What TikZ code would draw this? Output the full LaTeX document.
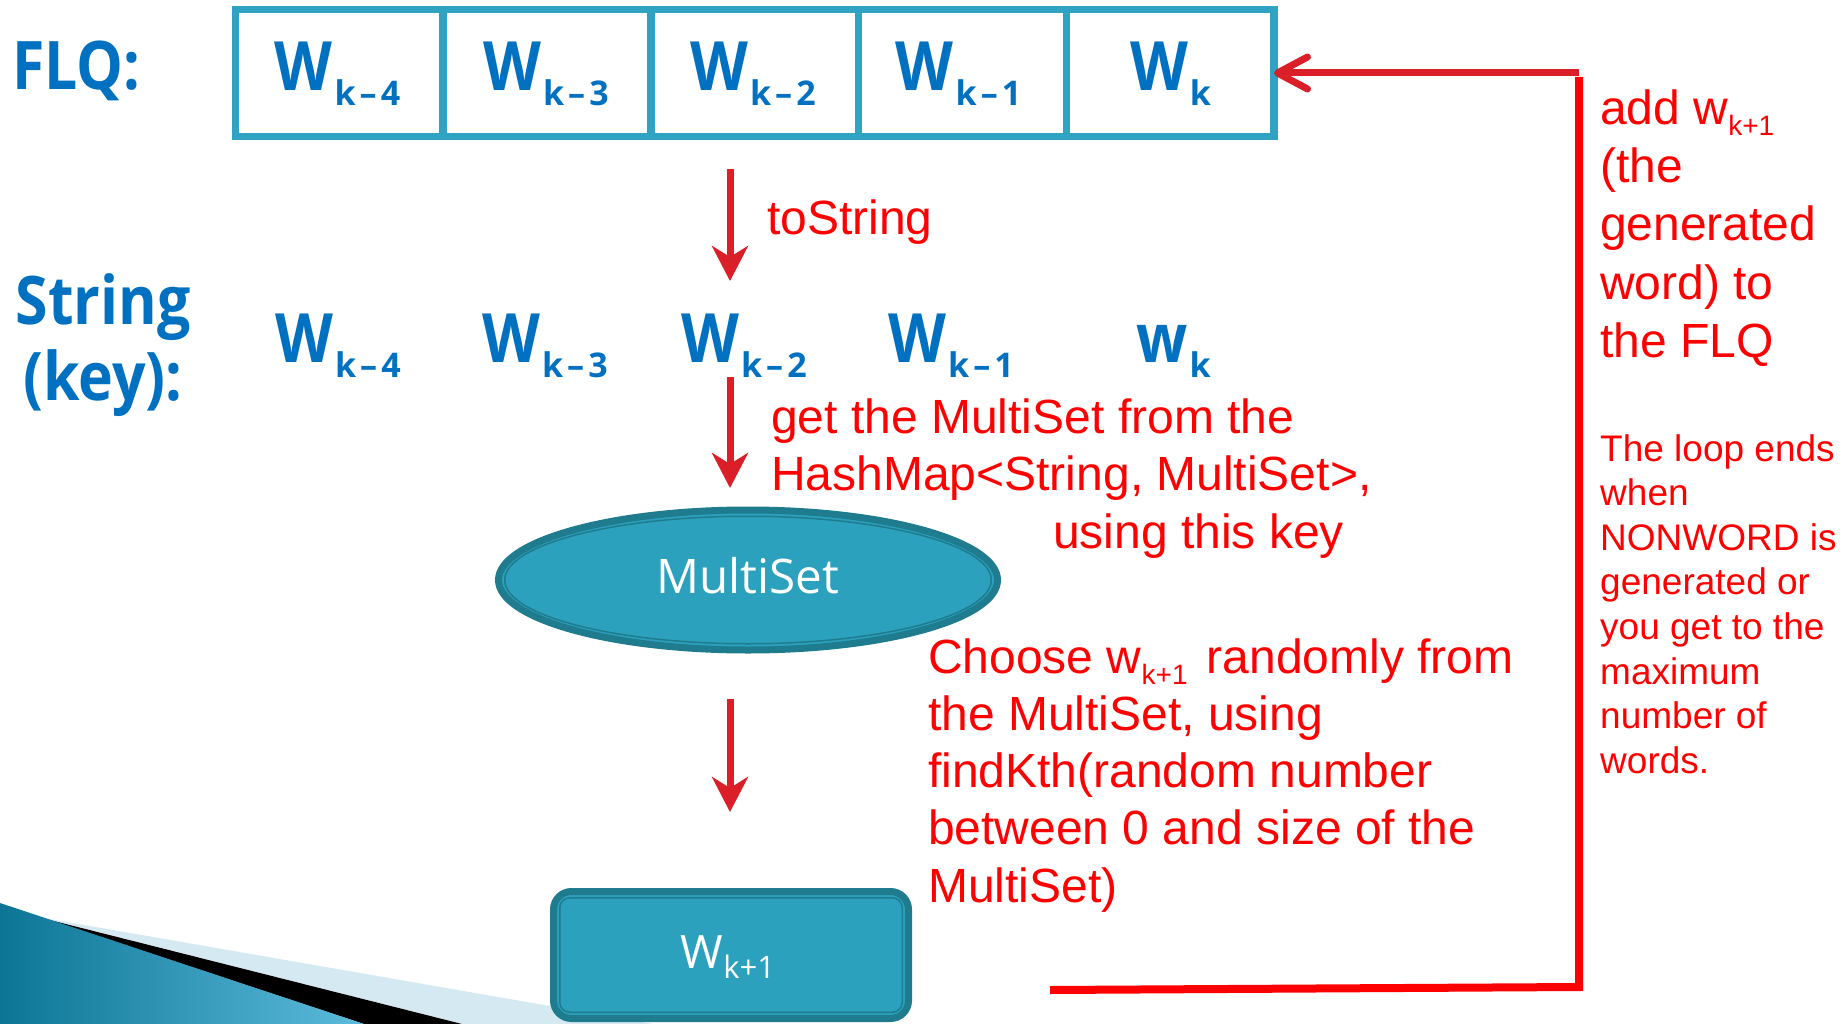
\documentclass[tikz,border=0pt]{standalone}
\usepackage{fontspec}
\setmainfont{Liberation Sans}
\newfontfamily\bluefont[FakeStretch=0.88]{Open Sans}
\newfontfamily\wfont{Open Sans}
\usetikzlibrary{arrows.meta,shapes.geometric}
\definecolor{flqblue}{HTML}{0070C0}
\definecolor{boxteal}{HTML}{2FA3C1}
\definecolor{fillteal}{HTML}{2CA1BD}
\definecolor{darkteal}{HTML}{1F7B8E}
\definecolor{arrowred}{HTML}{DA1F28}
\definecolor{textred}{HTML}{FF0000}
\definecolor{swdark}{HTML}{0C7595}
\definecolor{swlight}{HTML}{5CBBDC}
\definecolor{swpale}{HTML}{D4E9F1}
\newcommand\bsub[1]{\kern2pt\raisebox{-15pt}{\wfont\bfseries\fontsize{34}{40}\selectfont #1}}
\newcommand\rsub[1]{\raisebox{-11pt}{\fontsize{28}{32}\selectfont #1}}
\newcommand\wsub[1]{\raisebox{-10pt}{\fontsize{31}{36}\selectfont #1}}
\newcommand\mns{\kern4pt–\kern4pt}
\begin{document}
\begin{tikzpicture}[x=1pt,y=-1pt,
  cell/.style={draw=boxteal, line width=7.5pt, minimum width=207.7pt, minimum height=127pt, inner sep=0pt, outer sep=0pt},
  bw/.style={anchor=base, inner sep=0pt, text=flqblue, font=\bluefont\bfseries\fontsize{68}{80}\selectfont},
  bl/.style={inner sep=0pt, text=flqblue, font=\bluefont\bfseries\fontsize{67}{76}\selectfont},
  rt/.style={anchor=base west, inner sep=0pt, text=textred, font=\fontsize{48}{57.5}\selectfont},
  rs/.style={anchor=base west, inner sep=0pt, text=textred, font=\fontsize{37}{44.6}\selectfont},
  wt/.style={anchor=base, inner sep=0pt, text=white, font=\wfont\fontsize{47.6}{56}\selectfont},
  downarrow/.style={draw=arrowred, line width=7pt, -{Stealth[length=35pt,width=36pt,inset=11pt]}},
  tealshape/.style={draw=darkteal, line width=7pt, fill=fillteal, inner sep=0pt}
]
\useasboundingbox (0,0) rectangle (1844,1024);
\fill[white] (0,0) rectangle (1844,1024);
% corner swoosh
\fill[swpale] (44,918) -- (653,1024) -- (462,1024) -- cycle;
\fill[black] (46,919) -- (462,1024) -- (364,1024) -- cycle;
\shade[left color=swdark, right color=swlight] (0,903) -- (364,1024) -- (0,1024) -- cycle;
% FLQ cells
\foreach \i in {1,...,5} \node[cell] (c\i) at ({235.5+207.7*(\i-0.5)},73) {};
% labels
\node[bl, anchor=base west] (flq) at (12,90) {FLQ:};
\node[bl, anchor=base] (strlbl) at (103,324) {String};
\node[bl, anchor=base] (keylbl) at (103,400) {(key):};
% FLQ words
\node[bw] (f1) at (337.5,91) {W\bsub{k\mns4}};
\node[bw] (f2) at (546,91) {W\bsub{k\mns3}};
\node[bw] (f3) at (753,91) {W\bsub{k\mns2}};
\node[bw] (f4) at (958.5,91) {W\bsub{k\mns1}};
\node[bw] (f5) at (1170.5,91) {W\bsub{k}};
% String words
\node[bw] (s1) at (338,362) {W\bsub{k\mns4}};
\node[bw] (s2) at (545,362) {W\bsub{k\mns3}};
\node[bw] (s3) at (744,362) {W\bsub{k\mns2}};
\node[bw] (s4) at (951,362) {W\bsub{k\mns1}};
\node[bw] (s5) at (1173.5,362) {w\bsub{k}};
% ellipse
\node[tealshape, ellipse, minimum width=499pt, minimum height=140pt] (ms) at (748,580) {};
\draw[darkteal, line width=1.5pt] (ms.center) ellipse [x radius=243.25pt, y radius=63.75pt];
\node[wt] (mstext) at (748,593) {MultiSet};
% result box
\node[tealshape, rectangle, rounded corners=18pt, minimum width=355pt, minimum height=127pt] (wk) at (731,955) {};
\draw[darkteal, line width=1.5pt, rounded corners=10pt] (559.75,897.75) rectangle (902.25,1012.25);
\node[wt, font=\wfont\fontsize{46}{54}\selectfont] (wktext) at (728,968) {W\wsub{k+1}};
% down arrows
\coordinate (a1s) at (730,169); \coordinate (a1e) at (730,281);
\coordinate (a2s) at (730,377); \coordinate (a2e) at (730,488);
\coordinate (a3s) at (730,699); \coordinate (a3e) at (730,812);
\draw[downarrow] (a1s) -- (a1e);
\draw[downarrow] (a2s) -- (a2e);
\draw[downarrow] (a3s) -- (a3e);
% red texts
\node[rt] (tostr) at (767,235) {toString};
\node[rt] (get1) at (771,433) {get the MultiSet from the};
\node[rt] (get2) at (771,490) {HashMap<String, MultiSet>,};
\node[rt] (usekey) at (1053,548) {using this key};
\foreach \t [count=\i] in {{Choose w\rsub{k+1}\kern6pt{} randomly from},{the MultiSet, using},{findKth(random number},{between 0 and size of the},{MultiSet)}}
  \node[rt] (choose\i) at (928,{673+57.25*(\i-1)}) {\t};
\foreach \t [count=\i] in {{add w\rsub{k+1}},{(the},{generated},{word) to},{the FLQ}}
  \node[rt] (add\i) at (1600,{125+58*(\i-1)}) {\t};
\foreach \t [count=\i] in {{The loop ends},{when},{NONWORD is},{generated or},{you get to the},{maximum},{number of},{words.}}
  \node[rs] (loop\i) at (1600,{461+44.6*(\i-1)}) {\t};
% feedback loop
\coordinate (bl) at (1050,990);
\coordinate (bc) at (1579,987);
\coordinate (bt) at (1579,77);
\draw[textred, line width=8pt] (bl) -- (bc) -- (bt);
\coordinate (tr) at (1579,73);
\draw[arrowred, line width=7pt, -{Straight Barb[length=30pt,width=32pt,round]}] (tr) -- (c5.east);
\end{tikzpicture}
\end{document}
